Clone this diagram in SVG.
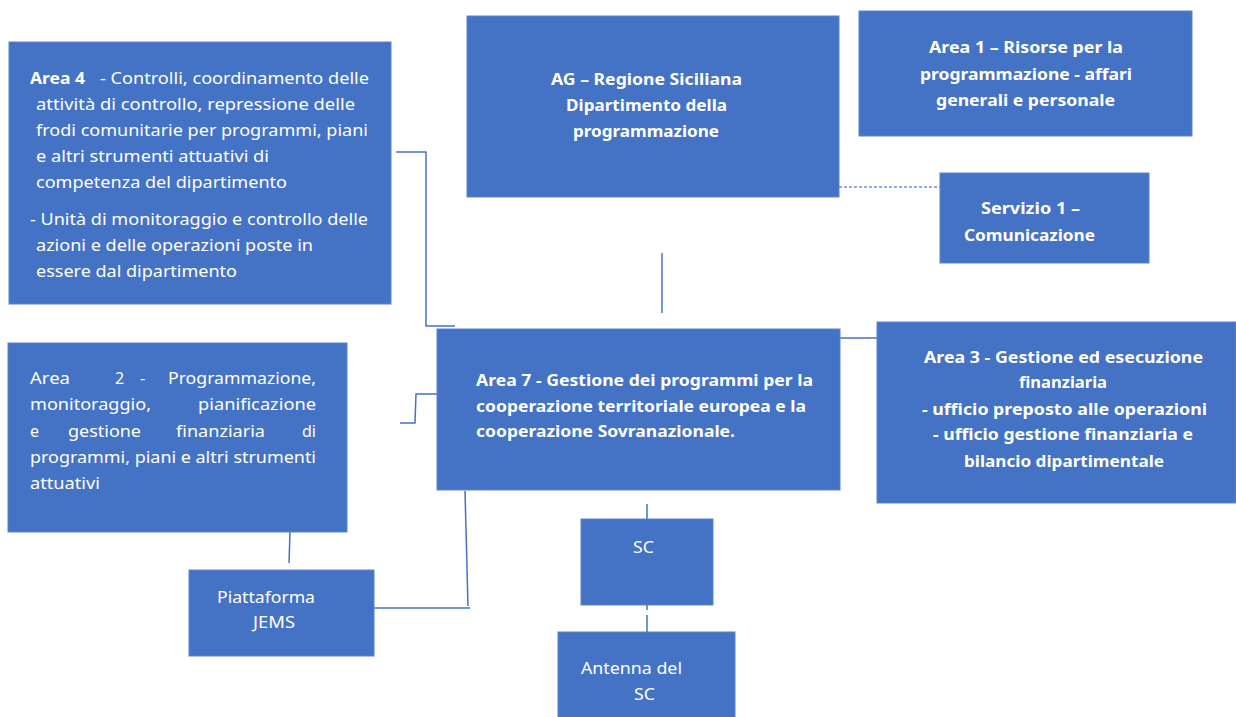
<svg xmlns="http://www.w3.org/2000/svg" width="1236" height="717" viewBox="0 0 1236 717">
<style>
.box{fill:#4472C4;stroke:#5A84CE;stroke-width:1}
.t{font-family:"Noto Sans","Open Sans","Liberation Sans",sans-serif;font-size:16px;fill:#FFFFFF}
.b{font-weight:bold}
.c{text-anchor:middle}
.ln{fill:none;stroke:#4472C4;stroke-width:1.5}
.dash{fill:none;stroke:#6F91D2;stroke-width:1.5;stroke-dasharray:3 2}
</style>
<rect width="1236" height="717" fill="#FFFFFF"/>
<g id="connectors">
<polyline class="ln" points="396,152 426,152 426,326 455,326"/>
<line class="ln" x1="662" y1="253" x2="662" y2="313"/>
<line class="dash" x1="839" y1="187" x2="940" y2="187"/>
<line class="ln" x1="840" y1="338" x2="877" y2="338"/>
<polyline class="ln" points="400,423 415,423 416,394 437,394"/>
<line class="ln" x1="465" y1="491" x2="468" y2="606"/>
<line class="ln" x1="374" y1="608" x2="470" y2="608"/>
<line class="ln" x1="290" y1="532" x2="289" y2="563"/>
<line class="ln" x1="647" y1="504" x2="647" y2="519"/>
<line class="ln" x1="647" y1="605" x2="647" y2="610"/>
<line class="ln" x1="647" y1="615" x2="647" y2="632"/>
</g>
<g id="area4">
<rect class="box" x="9" y="42" width="382" height="262"/>
<text class="t b" x="30" y="84" textLength="55" lengthAdjust="spacingAndGlyphs">Area 4</text>
<text class="t" x="100" y="84" textLength="269" lengthAdjust="spacingAndGlyphs">- Controlli, coordinamento delle</text>
<text class="t" x="36" y="110" textLength="319" lengthAdjust="spacingAndGlyphs">attività di controllo, repressione delle</text>
<text class="t" x="36" y="136" textLength="332" lengthAdjust="spacingAndGlyphs">frodi comunitarie per programmi, piani</text>
<text class="t" x="36" y="162" textLength="233" lengthAdjust="spacingAndGlyphs">e altri strumenti attuativi di</text>
<text class="t" x="36" y="188" textLength="251" lengthAdjust="spacingAndGlyphs">competenza del dipartimento</text>
<text class="t" x="30" y="225" textLength="338" lengthAdjust="spacingAndGlyphs">- Unità di monitoraggio e controllo delle</text>
<text class="t" x="36" y="251" textLength="277" lengthAdjust="spacingAndGlyphs">azioni e delle operazioni poste in</text>
<text class="t" x="36" y="277" textLength="201" lengthAdjust="spacingAndGlyphs">essere dal dipartimento</text>
</g>
<g id="ag">
<rect class="box" x="467" y="16" width="372" height="181"/>
<text class="t b" x="551" y="85" textLength="191" lengthAdjust="spacingAndGlyphs">AG – Regione Siciliana</text>
<text class="t b" x="566" y="111" textLength="161" lengthAdjust="spacingAndGlyphs">Dipartimento della</text>
<text class="t b" x="573" y="137" textLength="146" lengthAdjust="spacingAndGlyphs">programmazione</text>
</g>
<g id="area1">
<rect class="box" x="859" y="11" width="333" height="125"/>
<text class="t b" x="929" y="53" textLength="194" lengthAdjust="spacingAndGlyphs">Area 1 – Risorse per la</text>
<text class="t b" x="920" y="80" textLength="212" lengthAdjust="spacingAndGlyphs">programmazione - affari</text>
<text class="t b" x="936" y="106" textLength="179" lengthAdjust="spacingAndGlyphs">generali e personale</text>
</g>
<g id="servizio1">
<rect class="box" x="940" y="173" width="209" height="90"/>
<text class="t b" x="981" y="214" textLength="99" lengthAdjust="spacingAndGlyphs">Servizio 1 –</text>
<text class="t b" x="964" y="241" textLength="131" lengthAdjust="spacingAndGlyphs">Comunicazione</text>
</g>
<g id="area7">
<rect class="box" x="437" y="329" width="403" height="161"/>
<text class="t b" x="476" y="386" textLength="337" lengthAdjust="spacingAndGlyphs">Area 7 - Gestione dei programmi per la</text>
<text class="t b" x="476" y="412" textLength="330" lengthAdjust="spacingAndGlyphs">cooperazione territoriale europea e la</text>
<text class="t b" x="476" y="437" textLength="259" lengthAdjust="spacingAndGlyphs">cooperazione Sovranazionale.</text>
</g>
<g id="area3">
<rect class="box" x="877" y="322" width="359" height="181"/>
<text class="t b" x="924" y="363" textLength="279" lengthAdjust="spacingAndGlyphs">Area 3 - Gestione ed esecuzione</text>
<text class="t b" x="1019" y="388" textLength="88" lengthAdjust="spacingAndGlyphs">finanziaria</text>
<text class="t b" x="922" y="415" textLength="285" lengthAdjust="spacingAndGlyphs">- ufficio preposto alle operazioni</text>
<text class="t b" x="933" y="440" textLength="260" lengthAdjust="spacingAndGlyphs">- ufficio gestione finanziaria e</text>
<text class="t b" x="964" y="467" textLength="200" lengthAdjust="spacingAndGlyphs">bilancio dipartimentale</text>
</g>
<g id="area2">
<rect class="box" x="8" y="343" width="339" height="189"/>
<text class="t" x="30" y="384" textLength="40" lengthAdjust="spacingAndGlyphs">Area</text>
<text class="t" x="115" y="384">2</text>
<text class="t" x="140" y="384">-</text>
<text class="t" x="168" y="384" textLength="148" lengthAdjust="spacingAndGlyphs">Programmazione,</text>
<text class="t" x="30" y="410" textLength="121" lengthAdjust="spacingAndGlyphs">monitoraggio,</text>
<text class="t" x="198" y="410" textLength="118" lengthAdjust="spacingAndGlyphs">pianificazione</text>
<text class="t" x="30" y="437">e</text>
<text class="t" x="68" y="437" textLength="73" lengthAdjust="spacingAndGlyphs">gestione</text>
<text class="t" x="176" y="437" textLength="89" lengthAdjust="spacingAndGlyphs">finanziaria</text>
<text class="t" x="302" y="437" textLength="14" lengthAdjust="spacingAndGlyphs">di</text>
<text class="t" x="30" y="463" textLength="286" lengthAdjust="spacingAndGlyphs">programmi, piani e altri strumenti</text>
<text class="t" x="30" y="489" textLength="70" lengthAdjust="spacingAndGlyphs">attuativi</text>
</g>
<g id="piattaforma">
<rect class="box" x="189" y="570" width="185" height="86"/>
<text class="t" x="217" y="603" textLength="98" lengthAdjust="spacingAndGlyphs">Piattaforma</text>
<text class="t" x="253" y="628" textLength="42" lengthAdjust="spacingAndGlyphs">JEMS</text>
</g>
<g id="sc">
<rect class="box" x="581" y="519" width="132" height="86"/>
<text class="t" x="633" y="553" textLength="21" lengthAdjust="spacingAndGlyphs">SC</text>
</g>
<g id="antenna">
<rect class="box" x="558" y="632" width="177" height="86"/>
<text class="t" x="581" y="674" textLength="101" lengthAdjust="spacingAndGlyphs">Antenna del</text>
<text class="t" x="634" y="700" textLength="21" lengthAdjust="spacingAndGlyphs">SC</text>
</g>
</svg>
